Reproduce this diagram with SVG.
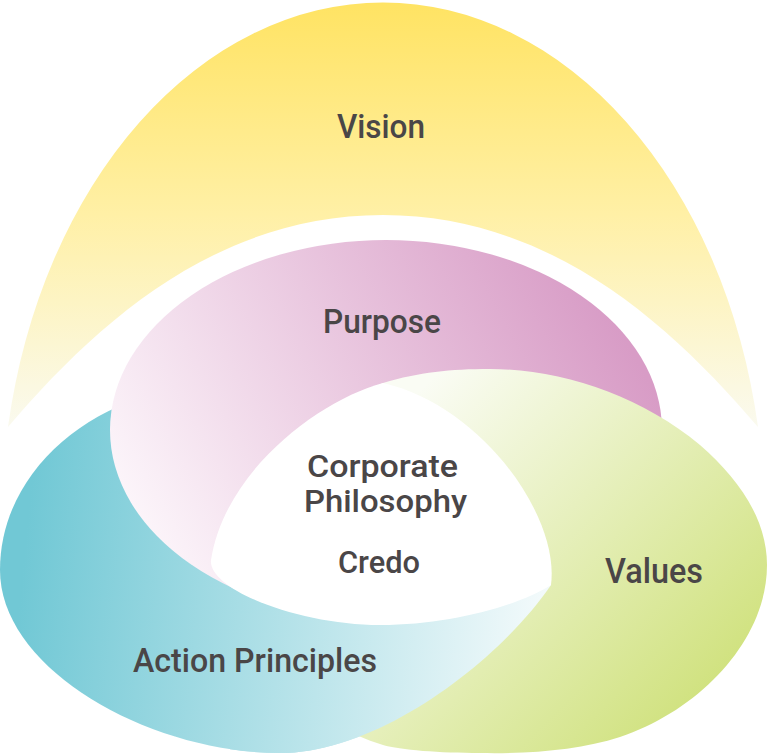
<svg xmlns="http://www.w3.org/2000/svg" xmlns:xlink="http://www.w3.org/1999/xlink" width="767" height="754" viewBox="0 0 767 754">
  <style>
    .lbl { font-family: Roboto, "Liberation Sans", sans-serif; font-weight: 500; fill: #4a4647; text-anchor: middle; }
  </style>
  <defs>
    <linearGradient id="gYellow" gradientUnits="userSpaceOnUse" x1="0" y1="0" x2="0" y2="430">
      <stop offset="0" stop-color="#ffe362"/>
      <stop offset="0.5" stop-color="#fff0a6"/>
      <stop offset="1" stop-color="#fafaf0"/>
    </linearGradient>
    <linearGradient id="gPink" gradientUnits="userSpaceOnUse" x1="620" y1="330" x2="170" y2="580">
      <stop offset="0" stop-color="#d89cc6"/>
      <stop offset="1" stop-color="#fcf5fa"/>
    </linearGradient>
    <linearGradient id="gCyan" gradientUnits="userSpaceOnUse" x1="20" y1="600" x2="540" y2="650">
      <stop offset="0" stop-color="#71c8d5"/>
      <stop offset="1" stop-color="#f3fafb"/>
    </linearGradient>
    <linearGradient id="gGreen" gradientUnits="userSpaceOnUse" x1="420" y1="390" x2="730" y2="690">
      <stop offset="0" stop-color="#fafcf4"/>
      <stop offset="1" stop-color="#cfe17b"/>
    </linearGradient>
    <clipPath id="clipLow">
      <polygon points="230,754 230,600 300,560 530,540 620,600 620,754"/>
    </clipPath>
    <path id="cyanShape" d="M140,398 C60,425 0,490 0,570 C0,670 150,753 280,753 C380,753 500,660 551,585 C545,530 450,450 330,400 C260,380 200,385 140,398 Z"/>
  </defs>

  <g id="vision">
    <path d="M8,427 A381.5,520 0 0 1 758,427 C671,325 551,215 383,215 C215,215 95,325 8,427 Z" fill="url(#gYellow)"/>
    <text class="lbl" x="381" y="138" font-size="34" textLength="88" lengthAdjust="spacingAndGlyphs">Vision</text>
  </g>

  <g id="action-principles">
    <use xlink:href="#cyanShape" fill="url(#gCyan)"/>
  </g>

  <g id="purpose">
    <ellipse cx="386" cy="430" rx="276" ry="190" fill="url(#gPink)"/>
    <text class="lbl" x="382" y="333" font-size="33" textLength="118" lengthAdjust="spacingAndGlyphs">Purpose</text>
  </g>

  <g id="values">
    <path d="M383,383 C420,372 450,369 490,369 C560,369 640,395 700,445 C740,480 767,520 767,565 C767,640 700,710 620,737 C580,750 530,754 480,753 C440,753 400,750 383,745 C300,720 250,650 250,600 C250,500 320,410 383,383 Z" fill="url(#gGreen)"/>
    <text class="lbl" x="654" y="583" font-size="35" textLength="98" lengthAdjust="spacingAndGlyphs">Values</text>
  </g>

  <g id="action-principles-front">
    <use xlink:href="#cyanShape" fill="url(#gCyan)" clip-path="url(#clipLow)"/>
    <text class="lbl" x="255" y="672" font-size="34" textLength="244" lengthAdjust="spacingAndGlyphs">Action Principles</text>
  </g>

  <g id="connectors"/>

  <g id="corporate-philosophy">
    <path d="M383,383 C320,400 225,470 211,560 C208,590 300,625 380,625 C450,625 520,605 551,585 C560,515 480,405 383,383 Z" fill="#ffffff"/>
    <text class="lbl" x="382.5" y="477" font-size="32" textLength="151" lengthAdjust="spacingAndGlyphs">Corporate</text>
    <text class="lbl" x="385.5" y="512" font-size="32" textLength="163" lengthAdjust="spacingAndGlyphs">Philosophy</text>
    <text class="lbl" x="379" y="573" font-size="32" textLength="82" lengthAdjust="spacingAndGlyphs">Credo</text>
  </g>
</svg>
